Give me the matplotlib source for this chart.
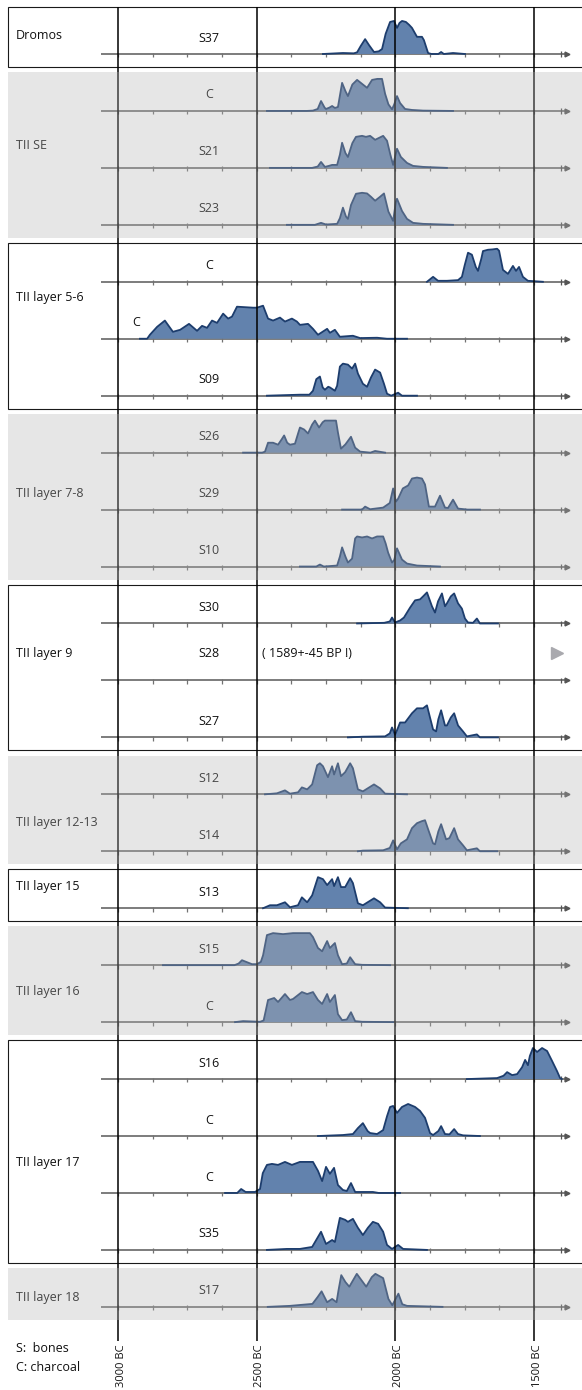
import matplotlib
matplotlib.use("Agg")
import matplotlib.pyplot as plt
from matplotlib.patches import Rectangle
from matplotlib.transforms import offset_copy

plt.rcParams['font.family'] = ['Open Sans', 'DejaVu Sans']
plt.rcParams['font.size'] = 9

# stratigraphic groups, top to bottom, and how many dated samples each holds
groups = ["Dromos", "TII SE", "TII layer 5-6", "TII layer 7-8", "TII layer 9",
          "TII layer 12-13", "TII layer 15", "TII layer 16", "TII layer 17", "TII layer 18"]
group_size = [1, 3, 3, 3, 3, 2, 1, 2, 4, 1]

samples = ["S37", "C", "S21", "S23", "C", "C", "S09", "S26", "S29", "S10",
           "S30", "S28", "S27", "S12", "S14", "S13", "S15", "C", "S16", "C", "C", "S35", "S17"]

ref_years = [3000, 2500, 2000, 1500]
ref_labels = ["3000 BC", "2500 BC", "2000 BC", "1500 BC"]
s28_note = "( 1589+-45 BP !)"

# calibrated distributions: years BC and relative probability (% of peak)
s37_bc = [2261, 2189, 2150, 2138, 2125, 2109, 2095, 2077, 2060, 2048, 2035, 2019, 2005, 1994, 1985,
          1976, 1962, 1950, 1940, 1922, 1904, 1897, 1882, 1870, 1845, 1835, 1825, 1792, 1749]
s37_p = [0, 3, 2, 5, 24, 45, 27, 6, 8, 15, 61, 97, 100, 79, 94,
         100, 97, 88, 79, 52, 52, 42, 3, 0, 0, 6, 0, 3, 0]

se_c_bc = [2463, 2320, 2297, 2280, 2268, 2255, 2250, 2238, 2228, 2218, 2207, 2192, 2180, 2171, 2155, 2138,
           2120, 2102, 2084, 2065, 2048, 2037, 2025, 2012, 2004, 1994, 1983, 1965, 1940, 1900, 1792]
se_c_p = [0, 0, 1, 6, 30, 10, 6, 10, 15, 9, 12, 85, 60, 45, 80, 94,
          82, 70, 94, 97, 97, 52, 20, 5, 20, 45, 24, 6, 3, 1, 0]

s21_bc = [2452, 2300, 2280, 2268, 2254, 2240, 2228, 2210, 2200, 2192, 2180, 2171, 2155, 2142,
          2120, 2106, 2091, 2073, 2044, 2030, 2018, 2008, 1994, 1980, 1958, 1936, 1900, 1814]
s21_p = [0, 0, 4, 18, 3, 6, 9, 9, 40, 76, 45, 33, 75, 94,
         97, 94, 97, 85, 97, 82, 40, 9, 58, 33, 15, 6, 3, 0]

s23_bc = [2391, 2290, 2268, 2250, 2210, 2200, 2189, 2178, 2171, 2160, 2142, 2120, 2102,
          2088, 2073, 2055, 2041, 2025, 2008, 1998, 1994, 1976, 1958, 1936, 1900, 1792]
s23_p = [0, 0, 6, 1, 3, 20, 52, 25, 18, 60, 94, 97, 95,
         85, 73, 85, 95, 40, 12, 70, 79, 42, 18, 6, 3, 0]

c56a_bc = [1886, 1864, 1846, 1814, 1774, 1760, 1750, 1738, 1724, 1710, 1702, 1690, 1684,
           1666, 1650, 1633, 1626, 1612, 1594, 1576, 1565, 1554, 1540, 1522, 1468]
c56a_p = [0, 15, 3, 3, 5, 15, 50, 88, 82, 45, 33, 70, 93,
          97, 98, 100, 94, 36, 24, 48, 33, 45, 15, 3, 0]

c56b_bc = [2921, 2895, 2885, 2859, 2831, 2820, 2802, 2776, 2744, 2715, 2697, 2679, 2661, 2643,
           2621, 2603, 2589, 2571, 2513, 2499, 2477, 2459, 2441, 2416, 2398, 2373, 2355, 2344,
           2315, 2297, 2279, 2246, 2236, 2218, 2200, 2153, 2127, 2066, 2030, 1958]
c56b_p = [0, 0, 12, 36, 55, 42, 21, 27, 45, 24, 39, 33, 55, 48,
          76, 61, 67, 97, 94, 94, 100, 61, 55, 64, 52, 61, 52, 42,
          45, 30, 12, 30, 18, 27, 6, 9, 2, 3, 0, 0]

s09_bc = [2463, 2344, 2310, 2297, 2285, 2272, 2262, 2254, 2242, 2236, 2218, 2210, 2200, 2189, 2171,
          2156, 2145, 2135, 2117, 2102, 2088, 2073, 2055, 2041, 2030, 2015, 1990, 1976, 1922]
s09_p = [0, 3, 3, 15, 50, 58, 25, 18, 27, 25, 15, 30, 88, 97, 94,
         82, 97, 67, 36, 27, 55, 79, 70, 36, 6, 0, 9, 0, 0]

s26_bc = [2549, 2480, 2470, 2459, 2441, 2423, 2410, 2401, 2390, 2380, 2362, 2350, 2344, 2329, 2315,
          2300, 2290, 2275, 2262, 2254, 2214, 2207, 2196, 2180, 2160, 2145, 2127, 2090, 2073, 2037]
s26_p = [0, 0, 3, 30, 30, 24, 40, 52, 30, 24, 27, 60, 76, 70, 58,
         85, 97, 76, 92, 97, 97, 61, 12, 25, 48, 15, 3, 0, 5, 0]

s29_bc = [2192, 2120, 2109, 2091, 2044, 2020, 2008, 1998, 1990, 1973, 1954, 1940,
          1922, 1904, 1893, 1879, 1857, 1839, 1821, 1810, 1792, 1774, 1740, 1695]
s29_p = [0, 0, 9, 1, 6, 20, 64, 24, 33, 64, 73, 94,
         97, 94, 76, 9, 9, 42, 6, 5, 30, 3, 0, 0]

s10_bc = [2344, 2285, 2272, 2258, 2210, 2200, 2192, 2180, 2171, 2156, 2145, 2138, 2120,
          2102, 2084, 2066, 2044, 2035, 2026, 2012, 2004, 1994, 1976, 1958, 1922, 1839]
s10_p = [0, 0, 6, 0, 3, 30, 58, 30, 12, 24, 85, 91, 88,
         91, 85, 91, 91, 70, 42, 12, 20, 55, 21, 9, 3, 0]

s30_bc = [2138, 2040, 2020, 2012, 2001, 1983, 1969, 1947, 1929, 1911, 1900, 1886, 1868, 1857,
          1846, 1832, 1821, 1814, 1800, 1788, 1774, 1760, 1749, 1738, 1720, 1706, 1695, 1630]
s30_p = [0, 2, 6, 18, 3, 9, 18, 48, 70, 73, 82, 94, 52, 33,
         67, 91, 52, 61, 82, 91, 61, 45, 15, 3, 2, 15, 0, 0]

s27_bc = [2171, 2117, 2037, 2020, 2012, 2001, 1990, 1983, 1965, 1940, 1922, 1900, 1886, 1875,
          1864, 1853, 1845, 1835, 1821, 1814, 1800, 1788, 1774, 1756, 1742, 1706, 1695, 1630]
s27_p = [0, 2, 3, 12, 30, 8, 30, 45, 45, 73, 88, 88, 97, 60,
         24, 18, 55, 82, 36, 36, 60, 73, 36, 18, 3, 9, 0, 0]

s12_bc = [2470, 2427, 2398, 2380, 2351, 2337, 2318, 2300, 2282, 2272, 2261, 2243, 2228,
          2221, 2207, 2196, 2181, 2163, 2153, 2135, 2117, 2077, 2055, 2037, 1958]
s12_p = [0, 3, 12, 2, 6, 21, 15, 30, 88, 94, 85, 52, 85,
         60, 94, 55, 67, 94, 79, 15, 9, 30, 18, 2, 0]

s14_bc = [2135, 2117, 2044, 2020, 2008, 1994, 1980, 1958, 1940, 1922, 1905, 1893, 1882,
          1864, 1857, 1845, 1835, 1817, 1805, 1788, 1774, 1756, 1742, 1706, 1695, 1633]
s14_p = [0, 2, 3, 10, 33, 6, 24, 36, 70, 85, 91, 94, 67,
         24, 21, 60, 82, 36, 40, 70, 36, 18, 3, 9, 0, 0]

s13_bc = [2477, 2452, 2427, 2398, 2380, 2351, 2337, 2318, 2300, 2279, 2261, 2246, 2228,
          2221, 2207, 2196, 2181, 2163, 2153, 2135, 2117, 2077, 2055, 2037, 1955]
s13_p = [0, 9, 9, 18, 3, 9, 33, 18, 39, 94, 88, 70, 88,
         67, 94, 64, 64, 91, 76, 15, 9, 30, 18, 2, 0]

s15_bc = [2838, 2580, 2565, 2553, 2535, 2517, 2499, 2485, 2477, 2463, 2441, 2405, 2369, 2308,
          2297, 2279, 2264, 2246, 2236, 2218, 2207, 2192, 2175, 2163, 2145, 2120, 2019]
s15_p = [0, 0, 5, 15, 9, 3, 3, 10, 30, 91, 97, 94, 97, 97,
         85, 52, 42, 73, 52, 67, 30, 3, 5, 24, 3, 1, 0]

c16_bc = [2578, 2549, 2488, 2475, 2470, 2459, 2437, 2423, 2398, 2380, 2369, 2337, 2318,
          2297, 2279, 2264, 2246, 2236, 2218, 2207, 2192, 2175, 2160, 2145, 2120, 2008]
c16_p = [0, 3, 1, 5, 24, 67, 73, 61, 85, 67, 70, 91, 85,
         91, 67, 55, 85, 61, 82, 24, 6, 8, 30, 3, 1, 0]

s16_bc = [1742, 1633, 1610, 1597, 1579, 1561, 1543, 1532, 1522, 1515, 1504, 1489, 1471,
          1453, 1435, 1417, 1406, 1400]
s16_p = [0, 3, 10, 21, 12, 15, 36, 58, 42, 70, 94, 82, 94,
         85, 55, 24, 3, 0]

c17a_bc = [2279, 2189, 2153, 2135, 2117, 2100, 2091, 2066, 2044, 2030, 2019, 2008, 1994, 1976,
           1954, 1929, 1911, 1893, 1875, 1864, 1845, 1835, 1821, 1805, 1788, 1774, 1756, 1695]
c17a_p = [0, 3, 6, 24, 39, 15, 9, 6, 18, 60, 88, 91, 70, 88,
          97, 88, 76, 55, 9, 3, 15, 30, 6, 5, 21, 6, 2, 0]

c17b_bc = [2614, 2570, 2556, 2540, 2506, 2488, 2478, 2463, 2445, 2423, 2398, 2373, 2344, 2297,
           2279, 2264, 2250, 2236, 2221, 2207, 2189, 2175, 2160, 2145, 2081, 2060, 1983]
c17b_p = [0, 0, 12, 3, 3, 12, 60, 85, 88, 85, 94, 85, 94, 94,
          67, 36, 79, 58, 76, 24, 9, 6, 30, 3, 3, 0, 0]

s35_bc = [2463, 2391, 2344, 2300, 2268, 2250, 2228, 2218, 2200, 2181, 2171, 2153,
          2135, 2117, 2099, 2081, 2062, 2044, 2030, 2012, 1990, 1972, 1886]
s35_p = [0, 3, 3, 9, 55, 18, 30, 24, 97, 91, 85, 94,
         67, 45, 67, 85, 79, 55, 15, 3, 15, 3, 0]

s17_bc = [2460, 2380, 2299, 2280, 2266, 2246, 2228, 2212, 2205, 2195, 2180, 2166,
          2139, 2105, 2085, 2072, 2044, 2025, 2011, 1989, 1975, 1958, 1830]
s17_p = [0, 3, 9, 30, 47, 14, 24, 14, 50, 96, 75, 61,
         100, 61, 90, 100, 87, 24, 5, 40, 8, 3, 0]

curves = [(s37_bc, s37_p), (se_c_bc, se_c_p), (s21_bc, s21_p), (s23_bc, s23_p),
          (c56a_bc, c56a_p), (c56b_bc, c56b_p), (s09_bc, s09_p),
          (s26_bc, s26_p), (s29_bc, s29_p), (s10_bc, s10_p),
          (s30_bc, s30_p), None, (s27_bc, s27_p),
          (s12_bc, s12_p), (s14_bc, s14_p), (s13_bc, s13_p),
          (s15_bc, s15_p), (c16_bc, c16_p),
          (s16_bc, s16_p), (c17a_bc, c17a_p), (c17b_bc, c17b_p), (s35_bc, s35_p),
          (s17_bc, s17_p)]

# ---- layout ----
ROW_H = 0.58          # peak height of a curve, in rows
BOX_X = 8 / 582       # left edge of the group boxes (axes fraction)
tick_years = list(range(3000, 1499, -125))
group_label_row = [-0.32, 1.60, 4.27, 7.71, 10.52, 13.50, 14.61, 16.47, 19.47, 21.83]
label_x = [0.359] * len(samples)
label_x[5] = 0.234
label_dy = [-0.28] * len(samples)
label_dy[11] = -0.48

fill_c = '#6282ad'
edge_c = '#1d3d6d'
axis_c = '#727272'

fig = plt.figure(figsize=(5.82, 13.9), dpi=100)
ax = fig.add_axes([0, 0, 1, 1])
ax.set_xlim(3425.5, 1327)     # years BC, time runs left to right
ax.set_ylim(23.46, -0.948)    # one row per dated sample
ax.axis('off')
tr = ax.get_yaxis_transform()

# group boxes: white framed / grey veil, alternating
row = 0
for g, (name, n) in enumerate(zip(groups, group_size)):
    top = row - (0.825 if g == 0 else 0.68)
    bottom = row + n - 1 + 0.23
    if g % 2:
        ax.add_patch(Rectangle((BOX_X, top), 1.0, bottom - top, transform=tr,
                               facecolor='#b4b4b4', alpha=0.333, edgecolor='none', zorder=10))
    else:
        ax.add_patch(Rectangle((BOX_X, top), 1.0, bottom - top, transform=tr,
                               facecolor='white', edgecolor='#1a1a1a', lw=0.8, zorder=0))
    ax.text(16 / 582, group_label_row[g], name, transform=tr, ha='left', va='center',
            color='#111111', zorder=5)
    row += n

# one time axis + curve per sample
for i, (lab, cur) in enumerate(zip(samples, curves)):
    ax.plot([3061, 1381], [i, i], color=axis_c, lw=1.3, zorder=1, solid_capstyle='butt')
    ax.vlines(tick_years, i - 0.025, i + 0.06, color=axis_c, lw=0.9, zorder=1)
    ax.vlines(1403, i - 0.05, i + 0.05, color='#555555', lw=0.9, zorder=1)
    ax.plot(1381, i, marker='>', ms=3.5, color='#555555', zorder=1)
    if cur is not None:
        bc, p = cur
        y = [i - v / 100 * ROW_H for v in p]
        ax.fill_between(bc, i, y, facecolor=fill_c, edgecolor='none', zorder=2)
        ax.plot(bc, y, color=edge_c, lw=1.3, zorder=3, solid_joinstyle='round')
    ax.text(label_x[i], i + label_dy[i], lab, transform=tr, ha='center', va='center',
            color='#111111', zorder=5)

# S28 has no usable calibration
ax.text(262 / 582, 11 - 0.48, s28_note, transform=tr, ha='left', va='center',
        color='#111111', zorder=5)
ax.plot(1417, 11 - 0.48, marker='>', ms=8, color='#a9a9ae', zorder=5)

# reference years
ax.vlines(ref_years, -0.825, 22.60, color='black', lw=1.1, zorder=4)
shift = offset_copy(ax.transData, fig=fig, x=3, y=0, units='dots')
for yr, lab in zip(ref_years, ref_labels):
    ax.text(yr, 22.66, lab, transform=shift, rotation=90, ha='center', va='top',
            fontsize=8, color='#111111')

# key
ax.text(16 / 582, 22.74, "S:  bones", transform=tr, ha='left', va='center', color='#111111')
ax.text(16 / 582, 23.06, "C: charcoal", transform=tr, ha='left', va='center', color='#111111')

fig.savefig("out.png", dpi=100)
